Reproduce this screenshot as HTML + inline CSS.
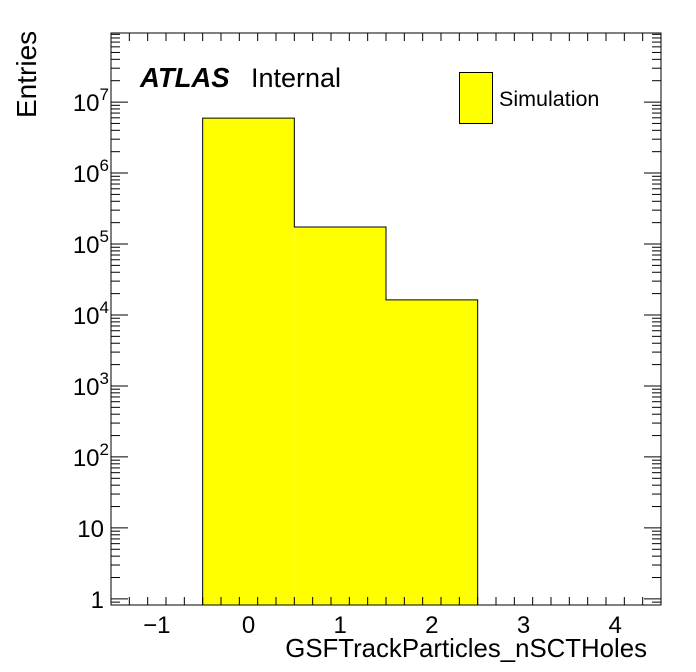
<!DOCTYPE html>
<html><head><meta charset="utf-8"><style>
html,body{margin:0;padding:0;background:#fff;}
svg{display:block;font-family:"Liberation Sans",sans-serif;}
</style></head><body>
<svg id="c" width="696" height="672">
<g id="bars"></g>
<g id="axes"></g>
<rect x="111" y="33" width="550" height="572" fill="none" stroke="#000" stroke-width="1"/>
<text x="36" y="118" font-size="28" transform="rotate(-90 36 118)" text-anchor="start">Entries</text>
<text x="647" y="657" font-size="25.8" text-anchor="end">GSFTrackParticles_nSCTHoles</text>
<text x="140" y="87" font-size="27.5" font-weight="bold" font-style="italic">ATLAS</text>
<text x="251" y="87" font-size="27">Internal</text>
<g>
<rect x="459.5" y="72.5" width="33" height="51" fill="#ffff00" stroke="#000"/>
<text x="499" y="106" font-size="21.5">Simulation</text>
</g>
</svg>
<script>
const binCenters=[0,1,2];
const binValues=[5.95e6,1.74e5,1.63e4];
const xTicks=[-1,0,1,2,3,4];
const yTickExps=[0,1,2,3,4,5,6,7];
const X0=111,X1=661,Y0=605,Y1=33,xmin=-1.5,xmax=4.5,lymin=Math.log10(0.82),lymax=Math.log10(9.4e7);
const sx=v=>X0+(v-xmin)/(xmax-xmin)*(X1-X0);
const sy=v=>Y0-(Math.log10(v)-lymin)/(lymax-lymin)*(Y0-Y1);
const NS="http://www.w3.org/2000/svg";
function mk(t,a,p){const e=document.createElementNS(NS,t);for(const k in a)e.setAttribute(k,a[k]);p.appendChild(e);return e;}
const bars=document.getElementById('bars'),axes=document.getElementById('axes');
let d='';
binCenters.forEach((c,i)=>{
 const x=sx(c-0.5),x2=sx(c+0.5),y=sy(binValues[i]);
 const r=mk('rect',{x:x,y:y,width:x2-x,height:Y0-y,fill:'#ffff00',stroke:'none'},bars);
 
 
 d+=(i===0?'M'+x+','+Y0+' ':'')+'L'+x+','+y+' L'+x2+','+y+' ';
 if(i===binCenters.length-1)d+='L'+x2+','+Y0;
});
const outline=mk('path',{d:d,fill:'none',stroke:'#000','stroke-width':1},bars);


function line(x1,y1,x2,y2){mk('line',{x1:x1,y1:y1,x2:x2,y2:y2,stroke:'#000','stroke-width':1},axes);}
for(let v=xmin;v<=xmax+1e-9;v+=0.2){
 const x=sx(v);const maj=Math.abs(v-Math.round(v))<1e-6;const L=maj?16:8;
 line(x,Y0,x,Y0-L);line(x,Y1,x,Y1+L);
}
xTicks.forEach(v=>{
 const t=mk('text',{x:sx(v),y:633,'font-size':24,'text-anchor':'middle'},axes);
 t.textContent=v<0?'\u2212'+Math.abs(v):String(v);
 
 
});
for(let e=-1;e<=8;e++)for(let m=1;m<=9;m++){
 const v=m*Math.pow(10,e);const y=sy(v);if(y>Y0+0.1||y<Y1-0.1)continue;
 const L=m===1?17:9;line(X0,y,X0+L,y);line(X1,y,X1-L,y);
}
yTickExps.forEach(e=>{
 const y=sy(Math.pow(10,e));
 const t=mk('text',{x:104,y:y+9,'font-size':24,'text-anchor':'end'},axes);
 if(e===0)t.textContent='1';else if(e===1)t.textContent='10';
 else{t.textContent='10';const s=mk('tspan',{dy:-11,'font-size':17},t);s.textContent=String(e);t.setAttribute('x',109);}
 
 
});
</script>
</body></html>
